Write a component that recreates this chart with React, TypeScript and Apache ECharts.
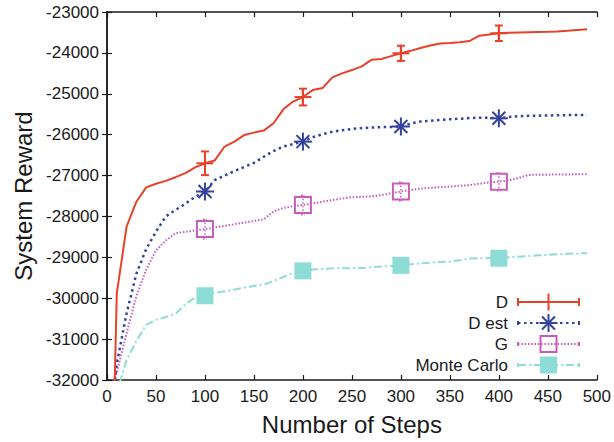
import React, { useEffect, useRef } from "react";
import * as echarts from "echarts";

// Steps at which each run was sampled
const steps = [
  0, 10, 20, 30, 40, 50, 60, 70, 80, 90,
  100, 110, 120, 130, 140, 150, 160, 170, 180, 190,
  200, 210, 220, 230, 240, 250, 260, 270, 280, 290,
  300, 310, 320, 330, 340, 350, 360, 370, 380, 390,
  400, 410, 420, 430, 440, 450, 460, 470, 480, 490,
];

const rewardD = [
  -40000, -29880, -28250, -27640, -27290, -27200, -27130, -27040, -26940, -26800,
  -26700, -26630, -26290, -26170, -26010, -25950, -25900, -25720, -25380, -25190,
  -25080, -24910, -24860, -24600, -24500, -24420, -24330, -24170, -24150, -24080,
  -24010, -23950, -23880, -23820, -23770, -23760, -23740, -23710, -23580, -23550,
  -23520, -23510, -23500, -23495, -23490, -23485, -23475, -23460, -23440, -23420,
];

const rewardDest = [
  -33600, -31600, -30370, -29400, -28800, -28370, -28000, -27840, -27690, -27520,
  -27390, -27110, -27000, -26890, -26790, -26690, -26540, -26400, -26290, -26230,
  -26170, -26060, -25990, -25930, -25890, -25860, -25840, -25825, -25815, -25810,
  -25800, -25730, -25680, -25660, -25640, -25620, -25610, -25595, -25585, -25590,
  -25600, -25570, -25550, -25540, -25535, -25530, -25525, -25522, -25520, -25518,
];

const rewardG = [
  -32740, -31815, -30860, -29950, -29300, -28830, -28590, -28410, -28375, -28340,
  -28310, -28270, -28230, -28190, -28150, -28110, -28070, -27880, -27790, -27750,
  -27720, -27680, -27640, -27600, -27560, -27530, -27520, -27510, -27480, -27430,
  -27390, -27350, -27320, -27300, -27285, -27270, -27250, -27235, -27200, -27170,
  -27150, -27120, -27060, -26985, -26980, -26978, -26975, -26972, -26970, -26968,
];

const rewardMC = [
  -34000, -32300, -31510, -31050, -30650, -30530, -30460, -30380, -30150, -29980,
  -29940, -29870, -29830, -29790, -29740, -29700, -29670, -29580, -29480, -29380,
  -29330, -29300, -29285, -29270, -29265, -29265, -29262, -29240, -29225, -29210,
  -29195, -29170, -29150, -29130, -29115, -29105, -29070, -29030, -29022, -29022,
  -29022, -29000, -28985, -28970, -28950, -28940, -28925, -28915, -28905, -28900,
];

// Steps carrying a point marker (and error bar)
const markerSteps = [100, 200, 300, 400];
// Error bar half-widths of D at the marker steps
const errD = [290, 205, 185, 190];
// Error bar half-widths of G at the marker steps
const errG = [240, 240, 230, 220];

const seriesNames = ["D", "D est", "G", "Monte Carlo"];
const xTicks = { min: 0, max: 500, interval: 50 };
const yTicks = { min: -32000, max: -23000, interval: 1000 };

const RED = "#e8412a";
const BLUE = "#34429c";
const MAGENTA = "#c75cbf";
const CYAN = "#8ddcd6";
const FONT = "Liberation Sans";

const pairs = (ys: number[]) => steps.map((s, i) => [s, ys[i]]);
const valueAt = (ys: number[], s: number) => ys[steps.indexOf(s)];
const markerData = (ys: number[], errs?: number[]) =>
  markerSteps.map((s, i) => [s, valueAt(ys, s), errs ? errs[i] : 0]);

type Kind = "plus" | "star" | "square" | "filled";

function markerShapes(kind: Kind, cx: number, cy: number, color: string, r: number): any[] {
  const ln = (x1: number, y1: number, x2: number, y2: number, extra: any = {}) => ({
    type: "line",
    shape: { x1, y1, x2, y2 },
    style: { stroke: color, lineWidth: 2, ...extra },
  });
  if (kind === "plus") {
    return [ln(cx - r, cy, cx + r, cy), ln(cx, cy - r, cx, cy + r)];
  }
  if (kind === "star") {
    const d = r * 0.72;
    return [
      ln(cx - r, cy, cx + r, cy),
      ln(cx, cy - r, cx, cy + r),
      ln(cx - d, cy - d, cx + d, cy + d),
      ln(cx - d, cy + d, cx + d, cy - d),
    ];
  }
  if (kind === "square") {
    return [
      {
        type: "rect",
        shape: { x: cx - r, y: cy - r, width: 2 * r, height: 2 * r },
        style: { fill: "none", stroke: color, lineWidth: 2 },
      },
    ];
  }
  return [
    {
      type: "rect",
      shape: { x: cx - r, y: cy - r, width: 2 * r, height: 2 * r },
      style: { fill: color },
    },
  ];
}

function markerSeries(name: string, ys: number[], errs: number[] | undefined, kind: Kind, color: string, r: number, dottedBar = false) {
  return {
    type: "custom",
    name,
    xAxisIndex: 0,
    yAxisIndex: 0,
    data: markerData(ys, errs),
    z: 5,
    renderItem: (params: any, api: any) => {
      const x = api.value(0);
      const y = api.value(1);
      const e = api.value(2);
      const c = api.coord([x, y]);
      const children: any[] = [];
      if (e > 0) {
        const top = api.coord([x, y + e]);
        const bot = api.coord([x, y - e]);
        const barStyle = dottedBar
          ? { stroke: color, lineWidth: 1.5, lineDash: [1.5, 2] }
          : { stroke: color, lineWidth: 2 };
        children.push({ type: "line", shape: { x1: c[0], y1: top[1], x2: c[0], y2: bot[1] }, style: barStyle });
        const cap = dottedBar ? 2 : 4;
        children.push({ type: "line", shape: { x1: c[0] - cap, y1: top[1], x2: c[0] + cap, y2: top[1] }, style: barStyle });
        children.push({ type: "line", shape: { x1: c[0] - cap, y1: bot[1], x2: c[0] + cap, y2: bot[1] }, style: barStyle });
      }
      children.push(...markerShapes(kind, c[0], c[1], color, r));
      return { type: "group", children };
    },
  };
}

function legendRow(i: number, label: string, color: string, dash: any, kind: Kind, r: number, capH: number) {
  const y = 302 + i * 21;
  const x1 = 518;
  const x2 = 579;
  const cx = 548.5;
  const children: any[] = [
    {
      type: "text",
      x: 508,
      y,
      style: { text: label, font: `17px "${FONT}"`, fill: "#1a1a1a", align: "right", verticalAlign: "middle" },
    },
    {
      type: "line",
      shape: { x1, y1: y, x2, y2: y },
      style: { stroke: color, lineWidth: 2, lineDash: dash },
    },
    { type: "line", shape: { x1, y1: y - capH, x2: x1, y2: y + capH }, style: { stroke: color, lineWidth: 2 } },
    { type: "line", shape: { x1: x2, y1: y - capH, x2, y2: y + capH }, style: { stroke: color, lineWidth: 2 } },
  ];
  children.push(...markerShapes(kind, cx, y, color, r));
  return { type: "group", children };
}

export default function App() {
  const ref = useRef<HTMLDivElement>(null);

  useEffect(() => {
    document.body.style.margin = "0";
    const chart = echarts.init(ref.current!, undefined, { renderer: "svg" });

    const axisLine = { show: true, lineStyle: { color: "#1a1a1a", width: 1.5 } };
    const axisTick = { show: true, inside: true, length: 5, lineStyle: { color: "#1a1a1a", width: 1.2 } };
    const label = { fontFamily: FONT, fontSize: 17, color: "#1a1a1a" };

    chart.setOption({
      animation: false,
      backgroundColor: "#ffffff",
      grid: { left: 107, top: 12, width: 492, height: 368 },
      xAxis: [
        {
          type: "value",
          ...xTicks,
          axisLine,
          axisTick,
          splitLine: { show: false },
          axisLabel: { ...label, margin: 8 },
          name: "Number of Steps",
          nameLocation: "middle",
          nameGap: 32,
          nameTextStyle: { fontFamily: FONT, fontSize: 24, color: "#1a1a1a" },
        },
        {
          type: "value",
          position: "top",
          ...xTicks,
          axisLine,
          axisTick,
          splitLine: { show: false },
          axisLabel: { show: false },
        },
      ],
      yAxis: [
        {
          type: "value",
          ...yTicks,
          axisLine,
          axisTick,
          splitLine: { show: false },
          axisLabel: { ...label, margin: 8, formatter: (v: number) => String(v) },
          name: "System Reward",
          nameLocation: "middle",
          nameGap: 72,
          nameTextStyle: { fontFamily: FONT, fontSize: 24, color: "#1a1a1a" },
        },
        {
          type: "value",
          position: "right",
          ...yTicks,
          axisLine,
          axisTick,
          splitLine: { show: false },
          axisLabel: { show: false },
        },
      ],
      series: [
        {
          type: "line",
          name: seriesNames[0],
          data: pairs(rewardD),
          showSymbol: false,
          clip: true,
          lineStyle: { color: RED, width: 2 },
          z: 4,
        },
        {
          type: "line",
          name: seriesNames[1],
          data: pairs(rewardDest),
          showSymbol: false,
          clip: true,
          lineStyle: { color: BLUE, width: 2.5, type: [2.5, 3.5] },
          z: 3,
        },
        {
          type: "line",
          name: seriesNames[2],
          data: pairs(rewardG),
          showSymbol: false,
          clip: true,
          lineStyle: { color: MAGENTA, width: 2, type: [1.5, 1.8] },
          z: 2,
        },
        {
          type: "line",
          name: seriesNames[3],
          data: pairs(rewardMC),
          showSymbol: false,
          clip: true,
          lineStyle: { color: CYAN, width: 2, type: [8, 3, 2, 3] },
          z: 1,
        },
        markerSeries(seriesNames[0], rewardD, errD, "plus", RED, 8.5),
        markerSeries(seriesNames[1], rewardDest, undefined, "star", BLUE, 9),
        markerSeries(seriesNames[2], rewardG, errG, "square", MAGENTA, 8, true),
        markerSeries(seriesNames[3], rewardMC, undefined, "filled", CYAN, 8.5),
      ],
      graphic: [
        legendRow(0, seriesNames[0], RED, null, "plus", 8.5, 4),
        legendRow(1, seriesNames[1], BLUE, [2.5, 3.5], "star", 9, 2),
        legendRow(2, seriesNames[2], MAGENTA, [1.5, 1.8], "square", 8, 2),
        legendRow(3, seriesNames[3], CYAN, [8, 3, 2, 3], "filled", 8.5, 2),
      ],
    });

    return () => chart.dispose();
  }, []);

  return <div ref={ref} style={{ width: 614, height: 442 }} />;
}
